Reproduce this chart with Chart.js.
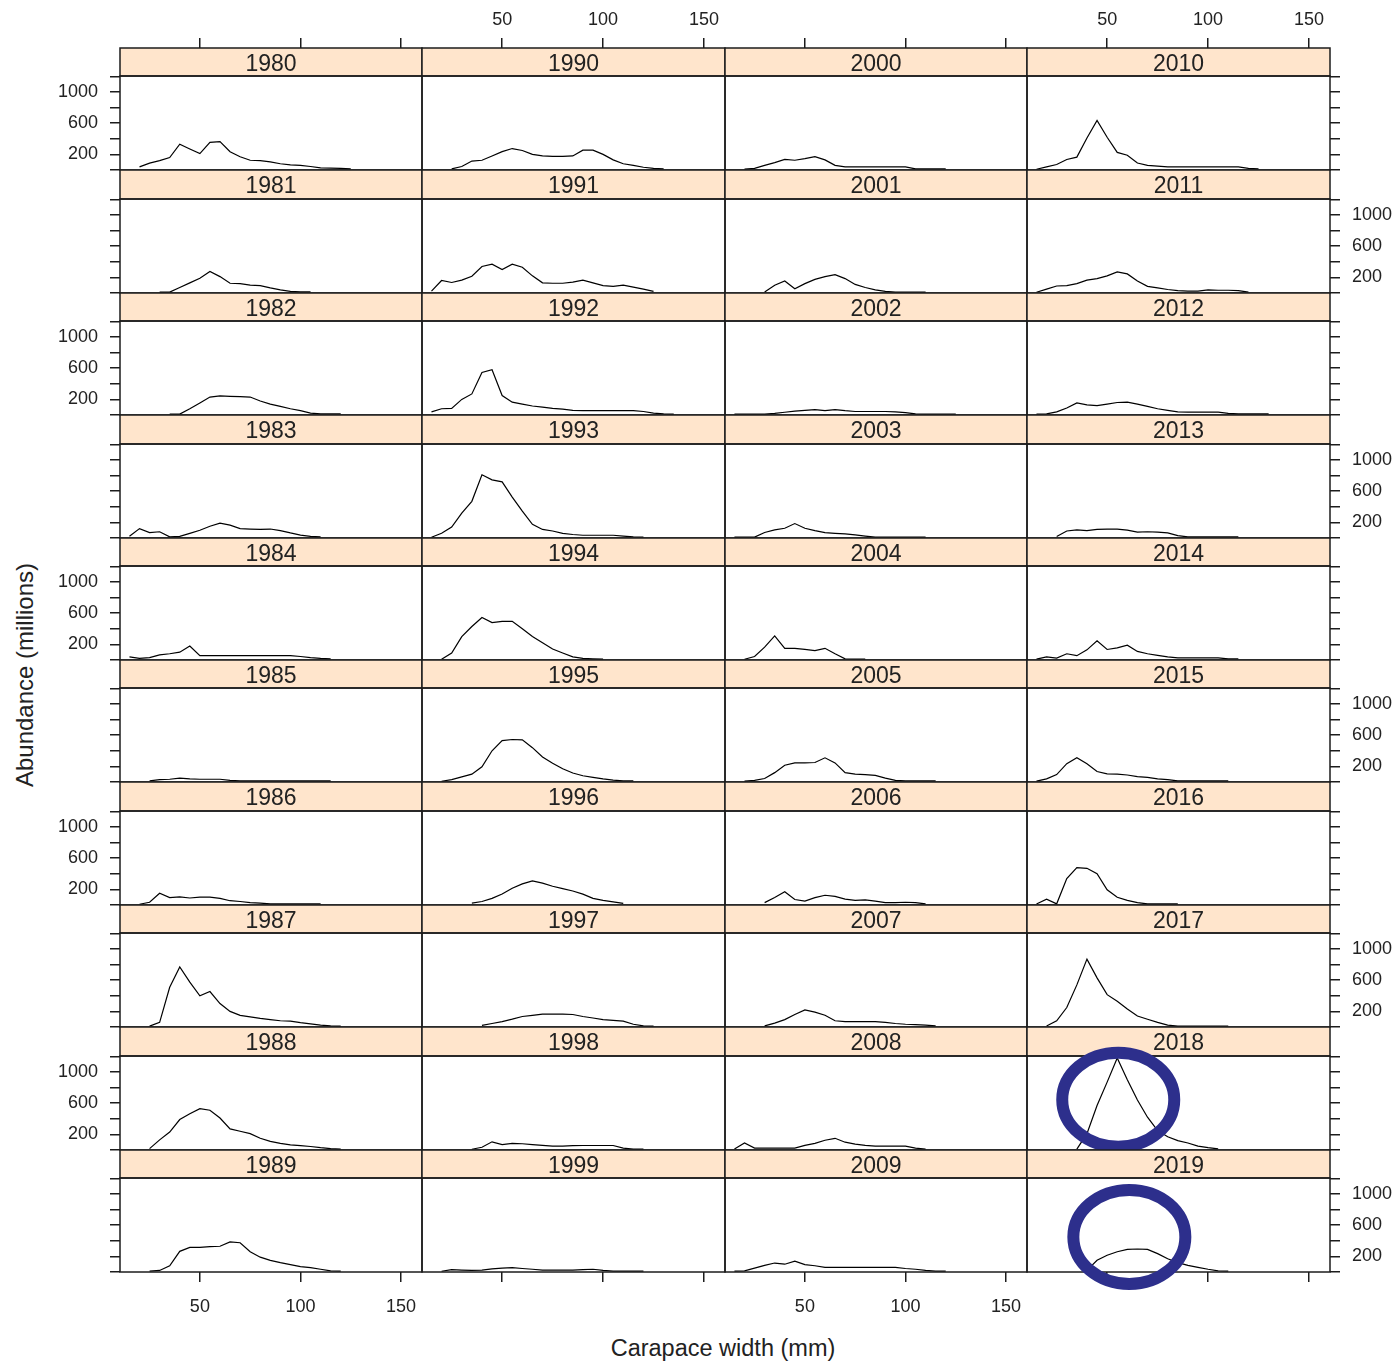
<!DOCTYPE html>
<html>
<head>
<meta charset="utf-8">
<script src="https://cdn.jsdelivr.net/npm/chart.js@4/dist/chart.umd.min.js"></script>
<style>
body{margin:0;background:#fff;width:1400px;height:1361px;position:relative;overflow:hidden;font-family:"Liberation Sans",Arial,sans-serif}
.cell{position:absolute}
#ylab{position:absolute;left:25px;top:675px;transform:translate(-50%,-50%) rotate(-90deg);font-size:24px;white-space:nowrap;color:#222}
#xlab{position:absolute;left:723px;top:1348px;transform:translate(-50%,-50%);font-size:23.5px;white-space:nowrap;color:#222}
</style>
</head>
<body>
<div id="ylab">Abundance (millions)</div>
<div id="xlab">Carapace width (mm)</div>
<script>
var _ = null;

// carapace width bins (mm)
var widths = [15,20,25,30,35,40,45,50,55,60,65,70,75,80,85,90,95,100,105,110,115,120,125,130,135,140];
var decades = [1980, 1990, 2000, 2010];
var xTicks = [50, 100, 150];
var yTicks = [0, 200, 400, 600, 800, 1000, 1200];
var yLabelled = [200, 600, 1000];

// abundance (millions) per width bin, one row per year
var counts1980s = [
  [_,40,88,120,160,330,270,210,355,365,235,170,125,120,105,80,65,60,45,27,25,20,15,_,_,_],
  [_,_,_,10,12,70,130,190,275,210,125,120,100,95,65,40,22,15,15,_,_,_,_,_,_,_],
  [_,_,_,_,10,12,80,155,230,245,240,235,230,180,140,110,80,55,25,15,15,15,_,_,_,_],
  [22,120,70,80,15,20,60,100,150,190,165,120,115,110,115,95,65,38,20,15,_,_,_,_,_,_],
  [40,20,30,65,80,100,180,55,55,55,55,55,55,55,55,55,55,45,30,20,15,_,_,_,_,_],
  [_,_,15,30,35,50,40,35,35,35,20,15,15,15,15,15,15,15,15,15,15,_,_,_,_,_],
  [_,10,35,150,95,105,90,100,100,85,55,45,30,25,15,15,15,15,15,15,_,_,_,_,_,_],
  [_,_,12,60,510,770,575,400,455,300,200,150,130,110,95,80,75,55,40,25,15,12,_,_,_,_],
  [_,_,18,130,230,390,465,530,510,410,270,240,210,150,110,85,65,55,45,30,18,12,_,_,_,_],
  [_,_,10,20,80,265,315,315,325,330,385,375,260,190,150,120,95,70,55,35,15,10,_,_,_,_]
];
var counts1990s = [
  [_,_,15,45,115,125,180,235,275,250,200,180,175,175,180,255,255,200,130,80,60,35,20,15,_,_],
  [25,160,135,165,215,340,370,300,370,330,220,130,125,125,140,165,130,95,85,100,75,50,20,_,_,_],
  [40,80,85,200,270,545,580,250,165,140,115,100,85,75,60,55,55,55,55,55,55,45,25,15,10,_],
  [10,60,140,320,470,810,745,720,525,345,175,110,90,60,45,35,35,35,35,25,15,12,_,_,_,_],
  [_,10,90,300,430,545,480,495,495,400,300,220,140,90,40,20,15,10,_,_,_,_,_,_,_,_],
  [_,10,30,65,100,195,400,530,545,540,440,320,240,170,115,80,60,40,25,15,15,_,_,_,_,_],
  [_,_,_,_,25,45,85,140,215,270,310,280,240,210,180,140,85,60,40,20,_,_,_,_,_,_],
  [_,_,_,_,_,20,45,70,100,135,150,165,165,165,160,135,115,95,85,75,35,15,12,_,_,_],
  [_,_,_,_,10,35,105,70,85,80,70,60,50,50,55,58,58,58,58,25,12,12,_,_,_,_],
  [_,10,30,25,20,25,40,50,55,45,35,25,25,25,25,30,35,20,12,12,12,12,_,_,_,_]
];
var counts2000s = [
  [_,12,20,60,95,135,125,145,170,130,60,40,40,40,40,40,40,40,15,15,15,15,_,_,_,_],
  [_,_,_,12,100,155,55,120,175,210,235,185,110,70,40,20,12,12,12,12,_,_,_,_,_,_],
  [10,10,10,10,20,35,50,60,70,55,70,55,45,45,45,45,40,30,15,10,10,10,10,_,_,_],
  [10,10,12,70,105,125,185,125,95,70,60,52,40,25,12,12,12,12,12,12,_,_,_,_,_,_],
  [_,10,45,165,310,150,150,135,120,150,80,15,10,10,_,_,_,_,_,_,_,_,_,_,_,_],
  [_,10,20,45,120,215,245,245,250,310,245,120,100,95,85,50,20,15,15,15,15,_,_,_,_,_],
  [_,_,_,30,95,170,70,50,95,125,110,75,60,65,50,30,30,35,30,15,_,_,_,_,_,_],
  [_,_,_,15,50,95,160,220,190,150,80,70,70,70,70,60,45,35,30,25,15,_,_,_,_,_],
  [12,90,25,25,25,25,25,60,85,125,150,100,75,60,50,50,50,50,25,12,_,_,_,_,_,_],
  [12,15,50,85,115,100,140,95,80,60,60,60,60,60,60,60,60,45,35,20,12,12,_,_,_,_]
];
var counts2010s = [
  [10,40,70,135,165,410,635,420,225,190,90,60,50,40,40,40,40,40,40,40,40,20,15,_,_,_],
  [10,50,90,95,120,165,185,220,270,245,155,85,65,45,30,25,25,40,35,35,30,12,_,_,_,_],
  [12,15,40,90,155,130,120,140,160,165,140,110,80,60,40,38,38,38,38,20,15,15,15,15,_,_],
  [_,_,20,90,105,95,110,115,115,100,75,80,75,65,30,15,15,15,15,15,15,_,_,_,_,_],
  [12,40,25,80,55,130,245,135,155,190,110,80,60,40,28,28,28,28,28,15,15,_,_,_,_,_],
  [12,40,95,235,310,235,135,105,100,90,70,60,40,30,15,15,15,15,15,15,_,_,_,_,_,_],
  [12,75,15,340,480,470,400,195,100,60,30,15,15,15,15,_,_,_,_,_,_,_,_,_,_,_],
  [_,12,80,250,540,870,630,415,330,230,140,100,60,25,12,12,12,12,12,12,_,_,_,_,_,_],
  [_,_,_,_,12,210,570,870,1180,900,640,420,250,170,120,90,50,30,15,_,_,_,_,_,_,_],
  [_,_,_,_,_,20,150,215,260,290,295,290,235,170,120,85,60,35,15,12,_,_,_,_,_,_]
];
var columns = [counts1980s, counts1990s, counts2000s, counts2010s];

// blue rings drawn over two panels (centre in data units, radii in px)
var circleMarks = [
  {year: 2018, width: 55.5, abundance: 645, rx: 56, ry: 47},
  {year: 2019, width: 61, abundance: 450, rx: 56, ry: 47}
];

var X_MIN = 10.3, X_MAX = 160.4, Y_MAX = 1205;
var LEFT = 120, TOP = 48, COLW = 302.4, ROWH = 122.4, STRIP = 28.4;
var SIDE = 70, OUT = 40;
var ink = '#1c1c1c';

Chart.defaults.font.family = '"Liberation Sans", Arial, sans-serif';
Chart.defaults.font.size = 18;
Chart.defaults.color = '#222';

Chart.register({
  id: 'frame',
  afterDraw: function(chart, args, opts) {
    var ctx = chart.ctx, a = chart.chartArea, s = chart.scales.strip;
    ctx.save();
    ctx.strokeStyle = ink;
    ctx.lineWidth = 1.5;
    ctx.strokeRect(s.left, s.top, s.right - s.left, s.bottom - s.top);
    ctx.strokeRect(a.left, a.top, a.right - a.left, a.bottom - a.top);
    (opts.marks || []).forEach(function(m) {
      ctx.beginPath();
      ctx.ellipse(chart.scales.x.getPixelForValue(m.width), chart.scales.y.getPixelForValue(m.abundance),
        m.rx, m.ry, 0, 0, Math.PI * 2);
      ctx.strokeStyle = '#2d2f8c';
      ctx.lineWidth = 12;
      ctx.stroke();
    });
    ctx.restore();
  }
});

function fixedTicks(list) {
  return function(s) { s.ticks = list.map(function(v) { return {value: v}; }); };
}

function xAxis(pos, weight, showTicks, showLabels, pad) {
  return {
    type: 'linear', axis: 'x', position: pos, weight: weight, min: X_MIN, max: X_MAX,
    grid: {display: showTicks, drawOnChartArea: false, tickLength: 10, color: ink, lineWidth: 1.5},
    border: {display: false},
    ticks: {display: showLabels, autoSkip: false, maxRotation: 0, padding: pad},
    afterBuildTicks: fixedTicks(xTicks),
    afterFit: function(s) { s.height = OUT; }
  };
}

function yAxis(pos, showTicks, showLabels) {
  return {
    type: 'linear', axis: 'y', position: pos, min: 0, max: Y_MAX,
    grid: {display: showTicks, drawOnChartArea: false, tickLength: 10, color: ink, lineWidth: 1.5},
    border: {display: false},
    ticks: {display: showLabels, autoSkip: false, padding: 12,
      callback: function(v) { return yLabelled.indexOf(v) >= 0 ? String(v) : ''; }},
    afterBuildTicks: fixedTicks(yTicks),
    afterFit: function(s) { s.width = SIDE; }
  };
}

function makePanel(col, row) {
  var year = decades[col] + row;
  var vals = columns[col][row];
  var pl = Math.round(LEFT + col * COLW), pr = Math.round(LEFT + (col + 1) * COLW);
  var st = Math.round(TOP + row * ROWH), sb = Math.round(TOP + row * ROWH + STRIP);
  var pb = Math.round(TOP + (row + 1) * ROWH);
  var marks = circleMarks.filter(function(m) { return m.year === year; });

  var div = document.createElement('div');
  div.className = 'cell';
  div.style.left = (pl - SIDE) + 'px';
  div.style.top = (st - OUT) + 'px';
  div.style.width = (pr - pl + 2 * SIDE) + 'px';
  div.style.height = (pb - st + 2 * OUT) + 'px';
  if (marks.length) div.style.zIndex = 5;
  var cv = document.createElement('canvas');
  div.appendChild(cv);
  document.body.appendChild(div);

  var top = row === 0, bottom = row === 9;
  new Chart(cv.getContext('2d'), {
    type: 'line',
    data: {
      datasets: [{
        data: widths.map(function(w, i) { return {x: w, y: vals[i] == null ? null : vals[i]}; }),
        borderColor: '#000', borderWidth: 1.2, pointRadius: 0, tension: 0, fill: false,
        xAxisID: 'x', yAxisID: 'y'
      }]
    },
    options: {
      responsive: true, maintainAspectRatio: false, animation: false, events: [],
      layout: {padding: 0},
      plugins: {legend: {display: false}, tooltip: {enabled: false}, frame: {marks: marks}},
      scales: {
        x: xAxis('bottom', 0, bottom, bottom && col % 2 === 0, 14),
        strip: {
          type: 'linear', axis: 'x', position: 'top', weight: 0, min: X_MIN, max: X_MAX,
          backgroundColor: '#ffe5cc',
          grid: {display: false}, border: {display: false}, ticks: {display: false},
          title: {display: true, text: String(year), color: '#222', font: {size: 23}, padding: {top: 3, bottom: 0}},
          afterFit: function(s) { s.height = sb - st; }
        },
        x2: xAxis('top', 1, top, top && col % 2 === 1, 7),
        y: yAxis('left', col === 0, col === 0 && row % 2 === 0),
        y2: yAxis('right', col === 3, col === 3 && row % 2 === 1)
      }
    }
  });
}

for (var c = 0; c < 4; c++) {
  for (var r = 0; r < 10; r++) makePanel(c, r);
}
</script>
</body>
</html>
